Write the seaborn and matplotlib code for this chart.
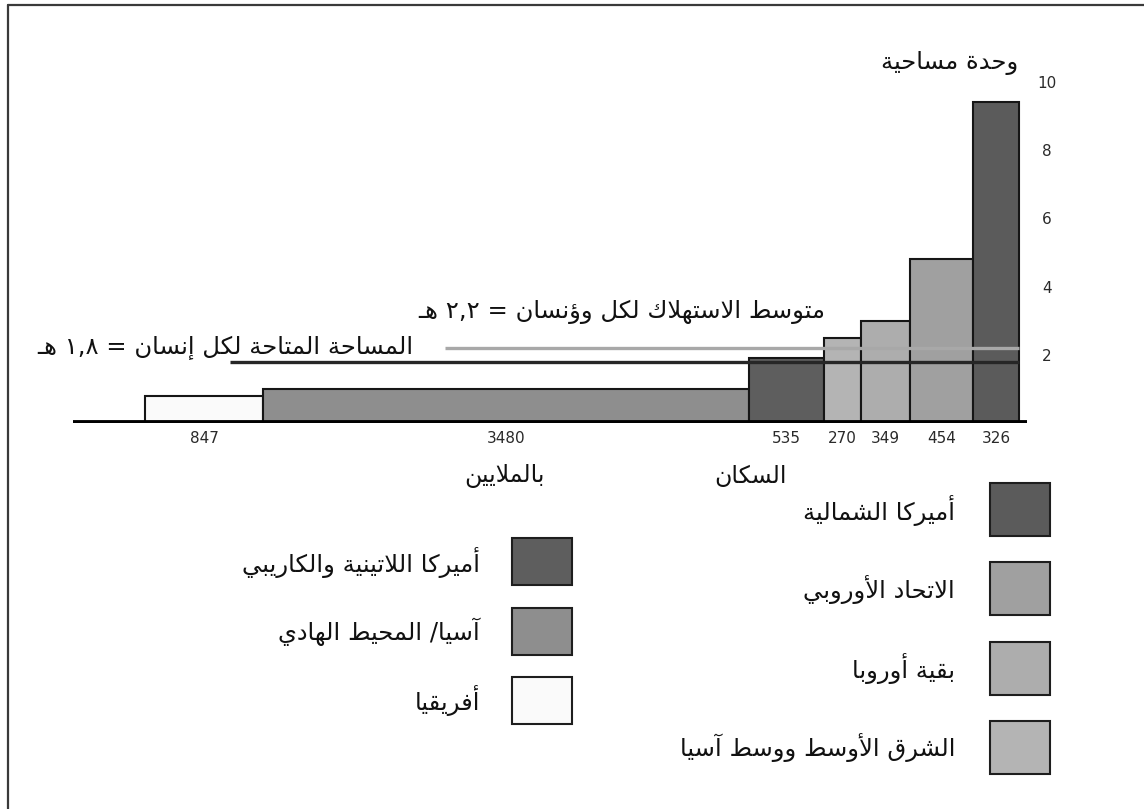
import numpy as np
import pandas as pd
import matplotlib
matplotlib.use("Agg")
import matplotlib.pyplot as plt
from matplotlib.patches import Rectangle
from matplotlib.lines import Line2D
import seaborn as sns

# ---------------------------------------------------------------- data
regions = ["أفريقيا", "آسيا/ المحيط الهادي", "أميركا اللاتينية والكاريبي",
           "الشرق الأوسط ووسط آسيا", "بقية أوروبا", "الاتحاد الأوروبي",
           "أميركا الشمالية"]
population = [847, 3480, 535, 270, 349, 454, 326]          # millions
footprint = [0.8, 1.0, 1.9, 2.5, 3.0, 4.8, 9.4]              # area units per person
bar_colors = ["#fafafa", "#8e8e8e", "#5e5e5e", "#b4b4b4", "#adadad",
              "#a0a0a0", "#5b5b5b"]
y_ticks = [2, 4, 6, 8, 10]
avg_footprint = 2.2
biocapacity = 1.8

unit_label = "وحدة مساحية"
avg_label = "متوسط الاستهلاك لكل وؤنسان = ٢,٢ هـ"
cap_label = "المساحة المتاحة لكل إنسان = ١,٨ هـ"
pop_word = "السكان"
millions_word = "بالملايين"

legend_right = ["أميركا الشمالية", "الاتحاد الأوروبي", "بقية أوروبا",
                "الشرق الأوسط ووسط آسيا"]
legend_left = ["أميركا اللاتينية والكاريبي", "آسيا/ المحيط الهادي", "أفريقيا"]

# ------------------------------------------------- Arabic text shaping
_DUAL = {'ئ': 0xFE89, 'ب': 0xFE8F, 'ت': 0xFE95, 'ث': 0xFE99, 'ج': 0xFE9D,
         'ح': 0xFEA1, 'خ': 0xFEA5, 'س': 0xFEB1, 'ش': 0xFEB5, 'ص': 0xFEB9,
         'ض': 0xFEBD, 'ط': 0xFEC1, 'ظ': 0xFEC5, 'ع': 0xFEC9, 'غ': 0xFECD,
         'ف': 0xFED1, 'ق': 0xFED5, 'ك': 0xFED9, 'ل': 0xFEDD, 'م': 0xFEE1,
         'ن': 0xFEE5, 'ه': 0xFEE9, 'ي': 0xFEF1}
_RIGHT = {'آ': 0xFE81, 'أ': 0xFE83, 'ؤ': 0xFE85, 'إ': 0xFE87, 'ا': 0xFE8D,
          'ة': 0xFE93, 'د': 0xFEA9, 'ذ': 0xFEAB, 'ر': 0xFEAD, 'ز': 0xFEAF,
          'و': 0xFEED, 'ى': 0xFEEF}
_LAM_ALEF = {'آ': 0xFEF5, 'أ': 0xFEF7, 'إ': 0xFEF9, 'ا': 0xFEFB}
_TATWEEL = '\u0640'


def _shape_word(word):
    tokens = []
    i = 0
    while i < len(word):
        ch = word[i]
        if ch == 'ل' and i + 1 < len(word) and word[i + 1] in _LAM_ALEF:
            tokens.append(('R', _LAM_ALEF[word[i + 1]]))
            i += 2
            continue
        if ch in _DUAL:
            tokens.append(('D', _DUAL[ch]))
        elif ch in _RIGHT:
            tokens.append(('R', _RIGHT[ch]))
        elif ch == _TATWEEL:
            tokens.append(('C', ord(ch)))
        else:
            tokens.append(('U', ord(ch)))
        i += 1
    out = []
    for k, (kind, base) in enumerate(tokens):
        if kind in ('U', 'C'):
            out.append(chr(base))
            continue
        prev_ok = k > 0 and tokens[k - 1][0] in ('D', 'C')
        if kind == 'R':
            out.append(chr(base + (1 if prev_ok else 0)))
            continue
        next_ok = k + 1 < len(tokens) and tokens[k + 1][0] in ('D', 'R', 'C')
        off = 3 if (prev_ok and next_ok) else 1 if prev_ok else 2 if next_ok else 0
        out.append(chr(base + off))
    return ''.join(out)


def rtl(text):
    """Shape Arabic letters and lay the words out right-to-left."""
    shown = []
    for w in text.split(' '):
        if any(c in _DUAL or c in _RIGHT or c == _TATWEEL for c in w):
            shown.append(_shape_word(w)[::-1])
        else:
            shown.append(w)
    return ' '.join(shown[::-1])


# ---------------------------------------------------------------- style
sns.set_theme(style="white")
plt.rcParams['font.family'] = ['DejaVu Sans']

W, H = 1144, 809
fig = plt.figure(figsize=(W / 100, H / 100), dpi=100)
fig.patch.set_facecolor("white")


def fx(px):
    return px / W


def fy(py):
    return 1 - py / H


# axes placement (pixels)
AX_L, AX_R, AX_T, AX_B = 73, 1027, 82, 423
BAR_L, BAR_R = 145, 1019
ax = fig.add_axes([fx(AX_L), fy(AX_B), (AX_R - AX_L) / W, (AX_B - AX_T) / H])

# ---------------------------------------------------------------- bars
edges = np.concatenate([[0], np.cumsum(population)]).astype(float)
total = edges[-1]
df = pd.DataFrame({"region": regions, "population": population,
                   "footprint": footprint,
                   "mid": (edges[:-1] + edges[1:]) / 2})

sns.histplot(data=df, x="mid", weights="footprint", bins=edges.tolist(), ax=ax,
             stat="count", element="bars", fill=True, alpha=1,
             edgecolor="#161616", linewidth=1.5, zorder=2)
for patch, color in zip(ax.containers[-1].patches, bar_colors):
    patch.set_facecolor(color)

px_per_unit = (BAR_R - BAR_L) / total
ax.set_xlim(-(BAR_L - AX_L) / px_per_unit, total + (AX_R - BAR_R) / px_per_unit)
ax.set_ylim(0, 10)

# reference lines: world average footprint and available area
avg_start = (445 - BAR_L) / px_per_unit
cap_start = (230 - BAR_L) / px_per_unit
ax.hlines(avg_footprint, avg_start, total, colors="#a8a8a8", linewidth=2.4, zorder=3)
ax.hlines(biocapacity, cap_start, total, colors="#262626", linewidth=2.4, zorder=3)

# thick baseline
ax.axhline(0, color="black", linewidth=4.2, zorder=4, solid_capstyle="butt")

# ---------------------------------------------------------------- axes
for s in ax.spines.values():
    s.set_visible(False)
ax.set_xlabel("")
ax.set_ylabel("")
ax.set_xticks(df["mid"], labels=[str(p) for p in population])
ax.tick_params(axis="x", length=0, pad=6, labelsize=11, labelcolor="#2a2a2a")
ax.yaxis.tick_right()
ax.set_yticks(y_ticks, labels=[str(t) for t in y_ticks])
ax.tick_params(axis="y", length=0, pad=14.5, labelsize=11, labelcolor="#2a2a2a",
               left=False, labelleft=False, right=False, labelright=True)
for lbl in ax.get_yticklabels():
    lbl.set_horizontalalignment("center")
ax.grid(False)

# ---------------------------------------------------------------- texts
AR = dict(family=['DejaVu Sans'], color="#111111")
FS = 17.5
fig.text(fx(1018), fy(63), rtl(unit_label), ha="right", va="center", fontsize=FS, **AR)
fig.text(fx(825), fy(312), rtl(avg_label), ha="right", va="center", fontsize=FS, **AR)
fig.text(fx(413), fy(348), rtl(cap_label), ha="right", va="center", fontsize=FS, **AR)
fig.text(fx(787), fy(476), rtl(pop_word), ha="right", va="center", fontsize=17, **AR)
fig.text(fx(545), fy(476), rtl(millions_word), ha="right", va="center", fontsize=17, **AR)

# ---------------------------------------------------------------- legend
right_colors = [bar_colors[6], bar_colors[5], bar_colors[4], bar_colors[3]]
left_colors = [bar_colors[2], bar_colors[1], bar_colors[0]]


def swatch(x0, y0, w, h, color):
    fig.add_artist(Rectangle((fx(x0), fy(y0 + h)), w / W, h / H,
                             transform=fig.transFigure, facecolor=color,
                             edgecolor="#1e1e1e", linewidth=1.5))


for i, (name, color) in enumerate(zip(legend_right, right_colors)):
    top = 483 + i * 79.3
    swatch(990, top, 60, 53, color)
    fig.text(fx(955), fy(top + 27), rtl(name), ha="right", va="center",
             fontsize=FS, **AR)

for i, (name, color) in enumerate(zip(legend_left, left_colors)):
    top = 538 + i * 69.5
    swatch(512, top, 60, 47, color)
    fig.text(fx(480), fy(top + 24), rtl(name), ha="right", va="center",
             fontsize=FS, **AR)

# frame along the top and left edges
fig.add_artist(Line2D([fx(8), fx(W)], [fy(5), fy(5)], transform=fig.transFigure,
                      color="#3a3a3a", linewidth=1.6))
fig.add_artist(Line2D([fx(8), fx(8)], [fy(5), fy(H)], transform=fig.transFigure,
                      color="#3a3a3a", linewidth=1.6))

fig.savefig("out.png", dpi=100, facecolor="white")
